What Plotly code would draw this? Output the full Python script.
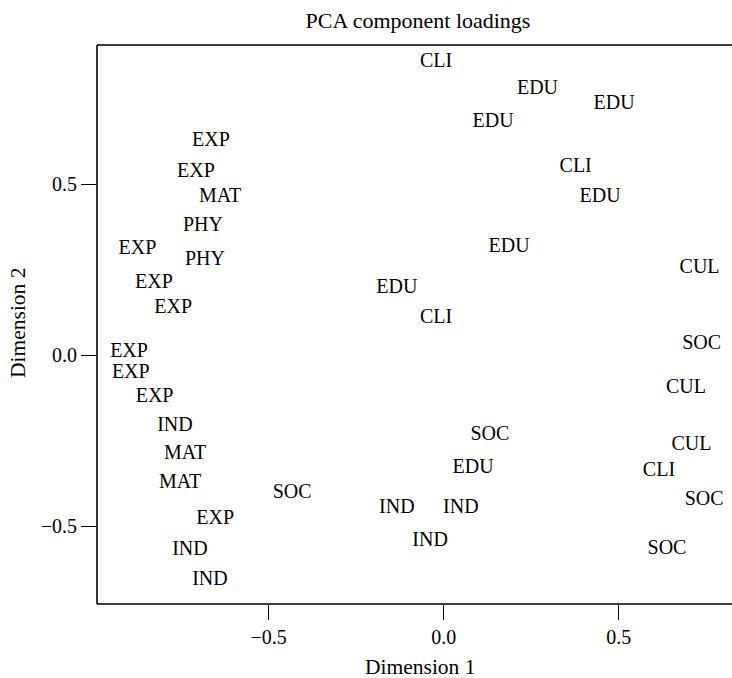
import plotly.graph_objects as go

labels = ["CLI", "EDU", "EDU", "EDU", "EXP", "EXP", "MAT", "PHY", "EXP", "PHY",
          "EXP", "EXP", "EXP", "EXP", "EXP", "IND", "MAT", "MAT", "EXP", "IND",
          "IND", "SOC", "IND", "IND", "IND", "SOC", "EDU", "EDU", "CLI", "EDU",
          "CLI", "EDU", "CUL", "SOC", "CUL", "CUL", "CLI", "SOC", "SOC"]
dim1 = [-0.022, 0.268, 0.487, 0.141, -0.665, -0.708, -0.639, -0.688, -0.875, -0.682,
        -0.828, -0.773, -0.899, -0.894, -0.826, -0.768, -0.739, -0.753, -0.653, -0.725,
        -0.668, -0.433, -0.134, 0.049, -0.039, 0.132, 0.084, -0.134, -0.022, 0.187,
        0.377, 0.447, 0.731, 0.737, 0.692, 0.708, 0.615, 0.744, 0.638]
dim2 = [0.857, 0.779, 0.734, 0.681, 0.626, 0.535, 0.462, 0.377, 0.310, 0.279,
        0.211, 0.137, 0.010, -0.053, -0.124, -0.209, -0.289, -0.374, -0.480, -0.570,
        -0.658, -0.402, -0.446, -0.446, -0.544, -0.234, -0.330, 0.196, 0.108, 0.316,
        0.550, 0.461, 0.254, 0.033, -0.096, -0.263, -0.338, -0.423, -0.567]
tick_vals = [-0.5, 0.0, 0.5]
tick_text = ["\u22120.5", "0.0", "0.5"]

FONT = "Liberation Serif"

fig = go.Figure()
fig.add_trace(go.Scatter(
    x=dim1, y=dim2, text=labels, mode="text",
    textposition="middle center",
    textfont=dict(family=FONT, size=20, color="black"),
    hoverinfo="skip", showlegend=False, cliponaxis=False,
))

axis_common = dict(
    showgrid=False, zeroline=False, showline=False,
    ticks="outside", ticklen=15, tickwidth=1.2, tickcolor="black",
    tickfont=dict(family=FONT, size=20, color="black"),
    tickvals=tick_vals, ticktext=tick_text,
)

line = dict(color="black", width=1.6)
shapes = [
    dict(type="line", xref="paper", yref="paper", x0=0, x1=0, y0=0, y1=1, line=line),
    dict(type="line", xref="paper", yref="paper", x0=0, x1=1.05, y0=0, y1=0, line=line),
    dict(type="line", xref="paper", yref="paper", x0=0, x1=1.05, y0=1, y1=1, line=line),
]

fig.update_layout(
    width=732, height=678,
    margin=dict(l=97, r=0, t=45, b=74),
    paper_bgcolor="white", plot_bgcolor="rgba(0,0,0,0)",
    title=dict(text="PCA component loadings", x=(418 - 97) / 635, xref="paper",
               y=1 - 20 / 678, yref="container", yanchor="middle", xanchor="center",
               font=dict(family=FONT, size=22, color="black")),
    xaxis=dict(range=[-0.9906, 0.8237], **axis_common),
    yaxis=dict(range=[-0.728, 0.9064], **axis_common),
    shapes=shapes,
    annotations=[
        dict(text="Dimension 1", xref="paper", yref="paper",
             x=(420 - 97) / 635, y=-(666.5 - 604) / 559,
             xanchor="center", yanchor="middle", showarrow=False,
             font=dict(family=FONT, size=21.5, color="black")),
        dict(text="Dimension 2", xref="paper", yref="paper",
             x=(18 - 97) / 635, y=(604 - 323) / 559, textangle=-90,
             xanchor="center", yanchor="middle", showarrow=False,
             font=dict(family=FONT, size=21.5, color="black")),
    ],
)

fig.write_html("out.html")
